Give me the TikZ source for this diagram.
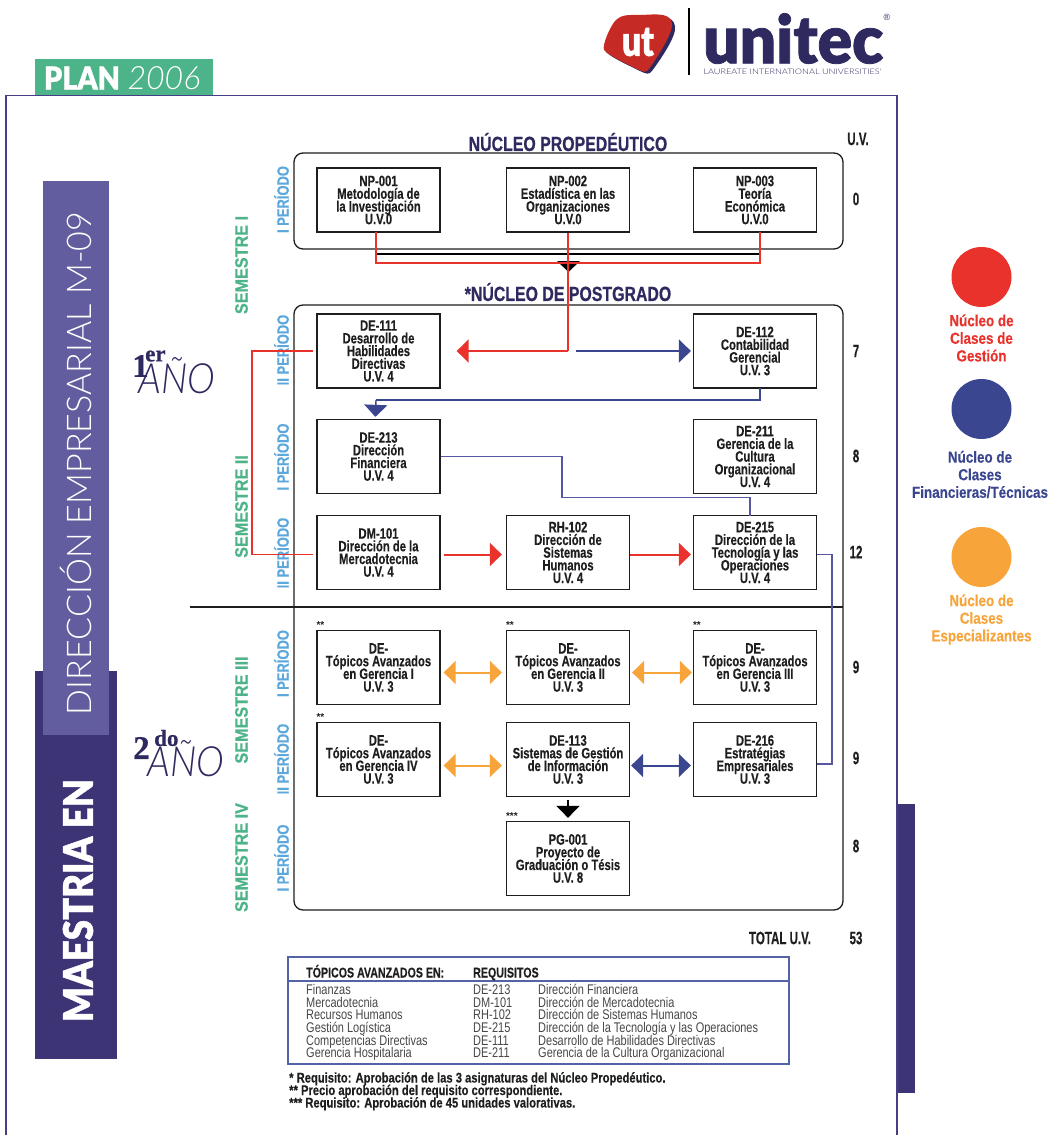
\documentclass[tikz,border=0pt]{standalone}
\usepackage{fontspec}
\usepackage{graphicx}
\usetikzlibrary{arrows.meta,calc}
\setmainfont{Liberation Sans}
\newfontfamily\fcourse[FakeStretch=0.75,FakeBold=0.25]{Liberation Sans Bold}
\newfontfamily\fperiod[FakeStretch=0.785,FakeBold=0.25]{Liberation Sans Bold}
\newfontfamily\fsem[FakeStretch=0.90,FakeBold=0.6]{Liberation Sans Bold}
\newfontfamily\ftitle[FakeStretch=0.775,FakeBold=0.6]{Liberation Sans Bold}
\newfontfamily\fuv[FakeStretch=0.64,FakeBold=0.3]{Liberation Sans Bold}
\newfontfamily\flegend[FakeStretch=0.84,FakeBold=0.2]{Liberation Sans Bold}
\newfontfamily\fhead[FakeStretch=0.75,FakeBold=0.2]{Liberation Sans Bold}
\newfontfamily\fnote[FakeStretch=0.80,FakeBold=0.2]{Liberation Sans Bold}
\newfontfamily\frow[FakeStretch=0.785]{Liberation Sans}
\newfontfamily\heavy[FakeBold=1.2]{Lato Black}
\newfontfamily\thin{Lato Light}
\newfontfamily\thinit{Lato Light Italic}
\newfontfamily\bodoni[FakeBold=0.6]{Liberation Serif Bold}
\newcommand{\coursefont}{\fcourse\fontsize{15}{12.7}\selectfont\lineskiplimit -20pt\relax}
\definecolor{cred}{HTML}{E8322B}
\definecolor{cblue}{HTML}{3A4690}
\definecolor{clight}{HTML}{5757A0}
\definecolor{ctable}{HTML}{5462A6}
\definecolor{corange}{HTML}{F7A43B}
\definecolor{cgreen}{HTML}{4DB388}
\definecolor{cperiod}{HTML}{5CA8DC}
\definecolor{cnavy}{HTML}{2E2A60}
\definecolor{cframe}{HTML}{453F85}
\definecolor{cdark}{HTML}{3D3476}
\definecolor{cband}{HTML}{625D9E}
\definecolor{ctext}{HTML}{1E1E1E}
\tikzset{
  x=1pt,y=-1pt,
  course/.style={draw=ctext,line width=1.3pt,minimum width=123pt,inner sep=0pt,align=center,text=ctext,
    font=\coursefont},
  courseA/.style={course,minimum height=64pt},
  courseB/.style={course,minimum height=74pt},
  roundbox/.style={draw=ctext,line width=1.3pt,rounded corners=9pt},
  period/.style={rotate=90,text=cperiod,inner sep=0pt,font=\fperiod\fontsize{16.5}{17}\selectfont},
  semester/.style={rotate=90,text=cgreen,inner sep=0pt,font=\fsem\fontsize{18}{18}\selectfont},
  uv/.style={text=ctext,inner sep=0pt,font=\fuv\fontsize{18}{18}\selectfont},
  title/.style={text=cnavy,inner sep=0pt,font=\ftitle\fontsize{20.5}{21}\selectfont},
  legend/.style={inner sep=0pt,align=center,font=\flegend\fontsize{16}{17.6}\selectfont},
  stars/.style={anchor=south west,inner sep=0pt,text=ctext,font=\bfseries\fontsize{10}{10}\selectfont},
  tabhead/.style={anchor=base west,inner sep=0pt,text=ctext,font=\fhead\fontsize{14.2}{14.2}\selectfont},
  tabrow/.style={anchor=base west,inner sep=0pt,text=black!72,font=\frow\fontsize{14}{14}\selectfont},
  note/.style={anchor=base west,inner sep=0pt,text=ctext,font=\fnote\fontsize{14}{14}\selectfont},
  redline/.style={draw=cred,line width=1.4pt},
  blueline/.style={draw=clight,line width=1.5pt},
  redarrow/.style={draw=cred,line width=2pt,-{Triangle[length=12pt,width=23pt,fill=cred]}},
  bluearrow/.style={draw=cblue,line width=2pt,-{Triangle[length=12pt,width=23pt,fill=cblue]}},
  orangeboth/.style={draw=corange,line width=2pt,{Triangle[length=12pt,width=23pt,fill=corange]}-{Triangle[length=12pt,width=23pt,fill=corange]}},
  blueboth/.style={draw=cblue,line width=2pt,{Triangle[length=12pt,width=23pt,fill=cblue]}-{Triangle[length=12pt,width=23pt,fill=cblue]}},
  blackarrow/.style={draw=black,line width=1.4pt,-{Triangle[length=12pt,width=23pt,fill=black]}},
  year/.style={inner sep=0pt,text=cnavy}
}
\begin{document}
\begin{tikzpicture}
\useasboundingbox (0,0) rectangle (1053,1135);
\fill[white] (0,0) rectangle (1053,1135);
% banners
\fill[cgreen] (35,59) rectangle (213,96);
\node[inner sep=0pt,anchor=center,text=white] (plan) at (82,78) {\resizebox{76pt}{23pt}{\heavy PLAN}};
\node[inner sep=0pt,anchor=center,text=white] (yr) at (164,78) {\resizebox{73pt}{23pt}{\thinit 2006}};
\fill[cdark] (897,804) rectangle (915,1093);
\draw[cframe,line width=1.6pt] (6,1140) -- (6,95.5) -- (897,95.5) -- (897,1140);
\fill[cdark] (35,671) rectangle (117,1059);
\fill[cband] (43,181) rectangle (109,735);
\node[rotate=90,inner sep=0pt,text=white] (dir) at (76,463.5) {\resizebox{503pt}{!}{\thin DIRECCIÓN EMPRESARIAL M-09}};
\node[rotate=90,inner sep=0pt,text=white] (mae) at (78,900.5) {\resizebox{243pt}{30pt}{\heavy MAESTRIA EN}};
% logo
\fill[cnavy] (617,23) .. controls (624,15) and (630,17) .. (644,17) .. controls (660,16) and (673,15) .. (675,26)
  .. controls (677,36) and (660,60) .. (652,71) .. controls (649,75) and (646,74) .. (640,71)
  .. controls (630,66) and (612,58) .. (606,52) -- cycle;
\fill[cred!85!black] (615,21) .. controls (622,14) and (628,15) .. (642,15) .. controls (658,14) and (671,13) .. (672,24)
  .. controls (673,33) and (657,58) .. (649,69) .. controls (646,73) and (643,72) .. (637,69)
  .. controls (627,64) and (609,56) .. (604,50) .. controls (602,45) and (610,27) .. (615,21) -- cycle;
\node[inner sep=0pt,text=white] (ut) at (638,42) {\resizebox{32pt}{28pt}{\heavy ut}};
\draw[black,line width=2.4pt] (689,8) -- (689,75);
\node[inner sep=0pt,anchor=south west,text=cnavy] (unitec) at (703,64) {\resizebox{180pt}{50pt}{\heavy unitec}};
\node[inner sep=0pt,text=cnavy] (lau) at (792.5,71.5) {\resizebox{178pt}{5.5pt}{\thin LAUREATE INTERNATIONAL UNIVERSITIES'}};
\node[inner sep=0pt,text=cnavy,font=\fontsize{9}{9}\selectfont] (reg) at (887,17) {®};
% legend
\fill[cred] (981.5,277) circle (30);
\fill[cblue] (981.5,409) circle (30);
\fill[corange] (981.5,557) circle (30);
\node[legend,text=cred] (lg1) at (981.5,338) {Núcleo de\\Clases de\\Gestión};
\node[legend,text=cblue] (lg2) at (980,474.5) {Núcleo de\\Clases\\Financieras/Técnicas};
\node[legend,text=corange] (lg3) at (981.5,619.5) {Núcleo de\\Clases\\Especializantes};
% year labels
\node[year,anchor=west] (a1) at (132,366) {\bodoni\fontsize{33}{33}\selectfont 1};
\node[year,anchor=west] (a1b) at (145,356) {\bodoni\fontsize{23}{23}\selectfont er};
\node[year] (a1c) at (177,376) {\resizebox{77pt}{36pt}{\thinit AÑO}};
\node[year,anchor=west] (a2) at (133,748) {\bodoni\fontsize{33}{33}\selectfont 2};
\node[year,anchor=west] (a2b) at (154,738) {\bodoni\fontsize{23}{23}\selectfont do};
\node[year] (a2c) at (186,759) {\resizebox{77pt}{36pt}{\thinit AÑO}};
% side labels
\node[semester] (s1) at (241.5,265) {SEMESTRE I};
\node[semester] (s2) at (241.5,506.5) {SEMESTRE II};
\node[semester] (s3) at (241.5,710) {SEMESTRE III};
\node[semester] (s4) at (241.5,857.5) {SEMESTRE IV};
\node[period] (p1) at (281.5,199.5) {I PERÍODO};
\node[period] (p2) at (281.5,350) {II PERÍODO};
\node[period] (p3) at (281.5,457) {I PERÍODO};
\node[period] (p4) at (281.5,553) {II PERÍODO};
\node[period] (p5) at (281.5,663.5) {I PERÍODO};
\node[period] (p6) at (281.5,759) {II PERÍODO};
\node[period] (p7) at (281.5,858) {I PERÍODO};
% titles
\node[title] (t1) at (568,142) {NÚCLEO PROPEDÉUTICO};
\node[title] (t2) at (568,292) {*NÚCLEO DE POSTGRADO};
% containers
\draw[roundbox] (294,153) rectangle (843,249);
\draw[roundbox] (294,305) rectangle (843,910);
\draw[ctext,line width=1.3pt] (190,607) -- (843,607);
% courses
\node[courseA] (np1) at (378.5,200) {NP-001\\Metodología de\\la Investigación\\U.V.0};
\node[courseA] (np2) at (568,200) {NP-002\\Estadística en las\\Organizaciones\\U.V.0};
\node[courseA] (np3) at (755,200) {NP-003\\Teoría\\Económica\\U.V.0};
\node[courseB] (de111) at (378.5,351) {DE-111\\Desarrollo de\\Habilidades\\Directivas\\U.V. 4};
\node[courseB] (de112) at (755,351) {DE-112\\Contabilidad\\Gerencial\\U.V. 3};
\node[courseB] (de213) at (378.5,456.5) {DE-213\\Dirección\\Financiera\\U.V. 4};
\node[courseB] (de211) at (755,456.5) {DE-211\\Gerencia de la\\Cultura\\Organizacional\\U.V. 4};
\node[courseB] (dm101) at (378.5,552.5) {DM-101\\Dirección de la\\Mercadotecnia\\U.V. 4};
\node[courseB] (rh102) at (568,552.5) {RH-102\\Dirección de\\Sistemas\\Humanos\\U.V. 4};
\node[courseB] (de215) at (755,552.5) {DE-215\\Dirección de la\\Tecnología y las\\Operaciones\\U.V. 4};
\node[courseB] (ta1) at (378.5,667.5) {DE-\\Tópicos Avanzados\\en Gerencia I\\U.V. 3};
\node[courseB] (ta2) at (568,667.5) {DE-\\Tópicos Avanzados\\en Gerencia II\\U.V. 3};
\node[courseB] (ta3) at (755,667.5) {DE-\\Tópicos Avanzados\\en Gerencia III\\U.V. 3};
\node[courseB] (ta4) at (378.5,759.5) {DE-\\Tópicos Avanzados\\en Gerencia IV\\U.V. 3};
\node[courseB] (de113) at (568,759.5) {DE-113\\Sistemas de Gestión\\de Información\\U.V. 3};
\node[courseB] (de216) at (755,759.5) {DE-216\\Estratégias\\Empresariales\\U.V. 3};
\node[courseB] (pg001) at (568,858.5) {PG-001\\Proyecto de\\Graduación o Tésis\\U.V. 8};
\node[stars] (st1) at ($(ta1.north west)+(0,-1)$) {**};
\node[stars] (st2) at ($(ta2.north west)+(0,-1)$) {**};
\node[stars] (st3) at ($(ta3.north west)+(0,-1)$) {**};
\node[stars] (st4) at ($(ta4.north west)+(0,-1)$) {**};
\node[stars] (st5) at ($(pg001.north west)+(0,-1)$) {***};
% U.V. column
\node[uv] (h) at (858,139) {U.V.};
\node[uv] (u1) at (856,199) {0};
\node[uv] (u2) at (856,351) {7};
\node[uv] (u3) at (856,456) {8};
\node[uv] (u4) at (856,552) {12};
\node[uv] (u5) at (856,667) {9};
\node[uv] (u6) at (856,758) {9};
\node[uv] (u7) at (856,846) {8};
\node[uv] (tot) at (780,938) {TOTAL U.V.};
\node[uv] (u8) at (856,938) {53};
% connectors
\coordinate (jl) at (376,254);
\coordinate (jr) at (760,254);
\coordinate (rl) at (376,263);
\coordinate (rr) at (760,263);
\coordinate (hub) at (568,351);
\coordinate (blstart) at (576,351);
\draw[black,line width=1.3pt] (jl) -- (jr);
\fill[black] (557,261) -- (580,261) -- (568.5,272) -- cycle;
\draw[redline] (376,232) -- (rl) -- (rr) -- (760,232);
\draw[redline] (np2.south) -- (hub);
\draw[redarrow] (hub) -- ($(de111.east)+(16,0)$);
\draw[bluearrow] (blstart) -- ($(de112.west)+(-2,0)$);
\draw[blueline,draw=cblue] (760,388) -- (760,400) -- (376,400) coordinate (bl) ;
\draw[bluearrow,line width=1.4pt] (bl) -- ($(de213.north west)+(59,-2)$);
\draw[redline] ($(de111.west)+(-3,0)$) -- (252,351) -- (252,554.5) -- ($(dm101.west)+(-3,2)$);
\draw[blueline] (de213.east) -- (562,456.5) -- (562,497.5) -- (750,497.5) -- (750,515.5);
\draw[blueline] ($(de215.east)+(0,2)$) -- (832,554.5) -- (832,764) -- ($(de216.east)+(0,4.5)$);
\draw[redarrow,shorten <=3pt] ($(dm101.east)+(0,2)$) -- ($(rh102.west)+(-4,2)$);
\draw[redarrow] ($(rh102.east)+(0,2)$) -- ($(de215.west)+(-2,2)$);
\draw[orangeboth] ($(ta1.east)+(3,5)$) -- ($(ta2.west)+(-4,5)$);
\draw[orangeboth] ($(ta2.east)+(2,5)$) -- ($(ta3.west)+(-1,5)$);
\draw[orangeboth] ($(ta4.east)+(3,6)$) -- ($(de113.west)+(-4,6)$);
\draw[blueboth] ($(de113.east)+(1,6)$) -- ($(de216.west)+(-2,6)$);
\draw[blackarrow] ($(de113.south)+(0,3)$) -- ($(pg001.north)+(0,-3)$);
% table
\draw[ctable,line width=1.5pt] (288,957) rectangle (789,1064);
\draw[ctable,line width=1.5pt] (288,981) -- (789,981);
\node[tabhead] (th1) at (306,977.5) {TÓPICOS AVANZADOS EN:};
\node[tabhead] (th2) at (473,977.5) {REQUISITOS};
\node[tabrow] (r11) at (306,994.5) {Finanzas};
\node[tabrow] (r12) at (473,994.5) {DE-213};
\node[tabrow] (r13) at (538,994.5) {Dirección Financiera};
\node[tabrow] (r21) at (306,1007) {Mercadotecnia};
\node[tabrow] (r22) at (473,1007) {DM-101};
\node[tabrow] (r23) at (538,1007) {Dirección de Mercadotecnia};
\node[tabrow] (r31) at (306,1019.5) {Recursos Humanos};
\node[tabrow] (r32) at (473,1019.5) {RH-102};
\node[tabrow] (r33) at (538,1019.5) {Dirección de Sistemas Humanos};
\node[tabrow] (r41) at (306,1032) {Gestión Logística};
\node[tabrow] (r42) at (473,1032) {DE-215};
\node[tabrow] (r43) at (538,1032) {Dirección de la Tecnología y las Operaciones};
\node[tabrow] (r51) at (306,1045) {Competencias Directivas};
\node[tabrow] (r52) at (473,1045) {DE-111};
\node[tabrow] (r53) at (538,1045) {Desarrollo de Habilidades Directivas};
\node[tabrow] (r61) at (306,1057.5) {Gerencia Hospitalaria};
\node[tabrow] (r62) at (473,1057.5) {DE-211};
\node[tabrow] (r63) at (538,1057.5) {Gerencia de la Cultura Organizacional};
\node[note] (n1) at (289,1082.5) {* Requisito: Aprobación de las 3 asignaturas del Núcleo Propedéutico.};
\node[note] (n2) at (289,1095) {** Precio aprobación del requisito correspondiente.};
\node[note] (n3) at (289,1107.5) {*** Requisito: Aprobación de 45 unidades valorativas.};
\end{tikzpicture}
\end{document}
